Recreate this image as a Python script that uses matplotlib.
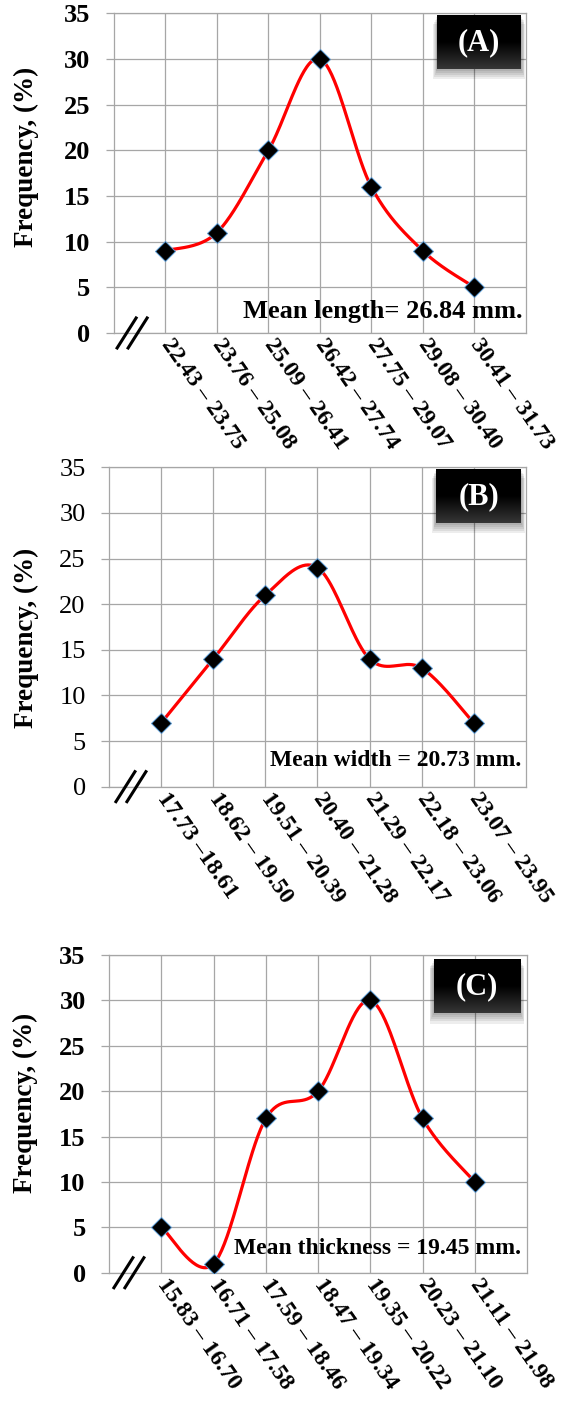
import numpy as np
import matplotlib
matplotlib.use("Agg")
import matplotlib.pyplot as plt
import matplotlib.transforms as mtransforms
from matplotlib.patches import Rectangle

plt.rcParams['font.family'] = ['Liberation Serif', 'DejaVu Serif']

# data
labels_a = ["22.43 \u2013 23.75", "23.76 \u2013 25.08", "25.09 \u2013 26.41", "26.42 \u2013 27.74",
            "27.75 \u2013 29.07", "29.08 \u2013 30.40", "30.41 \u2013 31.73"]
freq_a = [9, 11, 20, 30, 16, 9, 5]

labels_b = ["17.73 \u201318.61", "18.62 \u2013 19.50", "19.51 \u2013 20.39", "20.40 \u2013 21.28",
            "21.29 \u2013 22.17", "22.18 \u2013 23.06", "23.07 \u2013 23.95"]
freq_b = [7, 14, 21, 24, 14, 13, 7]

labels_c = ["15.83 \u2013 16.70", "16.71 \u2013 17.58", "17.59 \u2013 18.46", "18.47 \u2013 19.34",
            "19.35 \u2013 20.22", "20.23 \u2013 21.10", "21.11 \u2013 21.98"]
freq_c = [5, 1, 17, 20, 30, 17, 10]

tags = ["(A)", "(B)", "(C)"]
means = ["Mean length= 26.84 mm.", "Mean width = 20.73 mm.", "Mean thickness = 19.45 mm."]
yticks = [0, 5, 10, 15, 20, 25, 30, 35]


def smooth(x, y, n=40):
    # excel-like smoothed line (catmull-rom as bezier)
    pts = np.column_stack([x, y]).astype(float)
    P = np.vstack([pts[0], pts, pts[-1]])
    t = np.linspace(0, 1, n)[:, None]
    out = []
    for i in range(1, len(P) - 2):
        p0, p1, p2, p3 = P[i - 1], P[i], P[i + 1], P[i + 2]
        c1 = p1 + (p2 - p0) / 6
        c2 = p2 - (p3 - p1) / 6
        out.append((1 - t) ** 3 * p1 + 3 * (1 - t) ** 2 * t * c1 + 3 * (1 - t) * t ** 2 * c2 + t ** 3 * p2)
    return np.vstack(out)


fig = plt.figure(figsize=(5.63, 14.02), dpi=100)

rects = [[0.2025, 0.7625, 0.7313, 0.2280],
         [0.1941, 0.4389, 0.7396, 0.2278],
         [0.1941, 0.0922, 0.7419, 0.2266]]
ylab_pos = [(-0.183, 0.55), (-0.169, 0.466), (-0.171, 0.534)]
box_pos = [(0.785, 0.826, 0.204, 0.166), (0.785, 0.825, 0.204, 0.167), (0.777, 0.8165, 0.207, 0.168)]
mean_pos = [(0.991, 0.066), (0.99, 0.082), (0.986, 0.075)]
mean_size = [19, 17, 17]
brk_x = [0.044, 0.052, 0.047]
tick_bold = [True, False, True]

grid_col = '#a6a6a6'
grad = np.linspace(0, 1, 64)[:, None]

for k, (labs, vals) in enumerate([(labels_a, freq_a), (labels_b, freq_b), (labels_c, freq_c)]):
    ax = fig.add_axes(rects[k])
    x = np.arange(len(vals))
    s = smooth(x, vals)
    ax.plot(s[:, 0], s[:, 1], color='red', lw=2.3, zorder=3, solid_capstyle='round')
    ax.plot(x, vals, ls='none', marker='D', ms=10, mfc='black', mec='#5b9bd5', mew=0.7, zorder=4)

    ax.set_xlim(-1, len(vals))
    ax.set_ylim(0, 35)
    ax.set_yticks(yticks)
    ax.set_xticks(x)
    ax.grid(True, color=grid_col, lw=0.9)
    ax.set_axisbelow(True)
    for sp in ax.spines.values():
        sp.set_color(grid_col)
        sp.set_linewidth(0.9)

    ax.tick_params(axis='y', length=6, width=0.9, color=grid_col, pad=11, labelsize=19)
    ax.tick_params(axis='x', length=0, pad=6)
    for lab in ax.get_yticklabels():
        lab.set_fontweight('bold' if tick_bold[k] else 'normal')
    ax.set_xticklabels(labs, rotation=-55, ha='left', va='center', rotation_mode='anchor',
                       fontsize=17, fontweight='bold')

    ax.set_ylabel("Frequency, (%)", fontsize=19.5, fontweight='bold')
    ax.yaxis.set_label_coords(*ylab_pos[k])

    # label box with soft shadow and slight gradient
    bx, by, bw, bh = box_pos[k]
    for j in range(5):
        d = (j + 1) * 0.004
        ax.add_patch(Rectangle((bx - d * 0.5, by - d * 1.6), bw + d, bh + d * 0.4, transform=ax.transAxes,
                               facecolor='black', alpha=0.07, lw=0, clip_on=False, zorder=5))
    ax.imshow(grad, cmap=matplotlib.colors.LinearSegmentedColormap.from_list('g', ['#363636', '#000000', '#000000']),
              extent=(bx, bx + bw, by + bh, by), transform=ax.transAxes, aspect='auto',
              clip_on=False, zorder=6, origin='upper')
    ax.text(bx + bw / 2, by + bh / 2, tags[k], transform=ax.transAxes, color='white', fontsize=22,
            fontweight='bold', ha='center', va='center', zorder=7)

    ax.text(mean_pos[k][0], mean_pos[k][1], means[k], transform=ax.transAxes, fontsize=mean_size[k],
            fontweight='bold', ha='right', va='center', zorder=5)

    # axis break mark
    tr = fig.dpi_scale_trans + mtransforms.ScaledTranslation(brk_x[k], 0, ax.transAxes)
    for off in (-0.055, 0.055):
        ax.plot([off - 0.095, off + 0.095], [-0.15, 0.15], color='black', lw=2.2,
                transform=tr, clip_on=False, zorder=5)

    ax.set_xlim(-1, len(vals))
    ax.set_ylim(0, 35)

fig.savefig("out.png", dpi=100)
